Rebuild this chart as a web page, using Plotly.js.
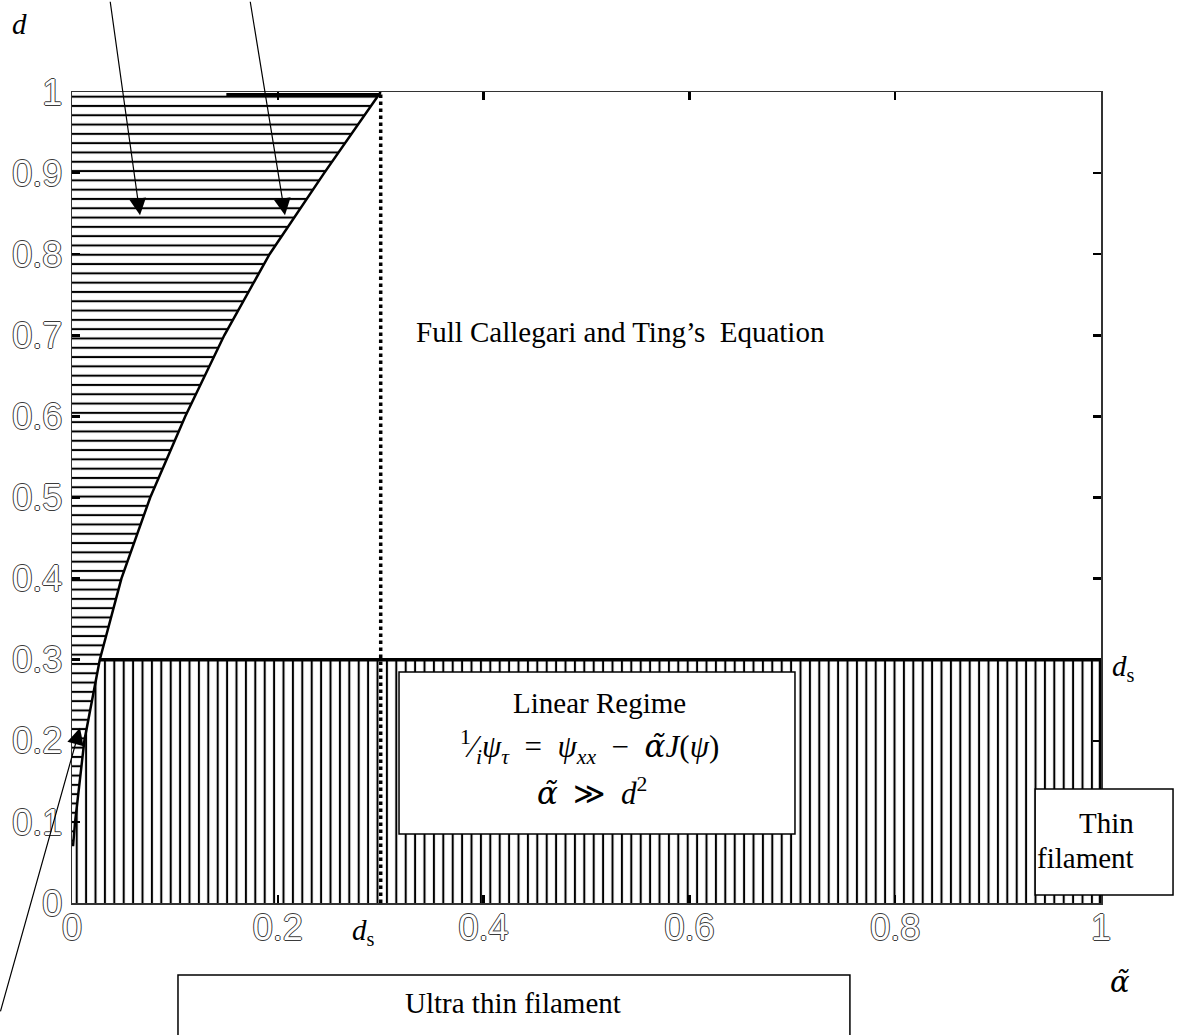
<!DOCTYPE html>
<html>
<head>
<meta charset="utf-8">
<script src="https://cdn.plot.ly/plotly-3.0.1.min.js"></script>
<style>html,body{margin:0;padding:0;background:#fff;}</style>
</head>
<body>
<div id="chart" style="width:1182px;height:1035px;"></div>
<script>
// Boundary curve between the two regimes
const curveAlpha = [0.001, 0.003, 0.012, 0.027, 0.048, 0.076, 0.110, 0.148, 0.192, 0.245, 0.300];
const curveD     = [0.07, 0.10, 0.20, 0.30, 0.40, 0.50, 0.60, 0.70, 0.80, 0.90, 1.00];
// Thin-filament limit d_s and regime limits
const dS = 0.3;
const alphaMax = 1.0;
const alphaDs = 0.3;
const topSegAlpha = [0.15, 0.30];
const topSegD = [0.997, 0.997];
const xTickVals = [0, 0.2, 0.4, 0.6, 0.8, 1];
const xTickText = ['0', '0.2', '0.4', '0.6', '0.8', '1'];
const yTickVals = [0, 0.1, 0.2, 0.3, 0.4, 0.5, 0.6, 0.7, 0.8, 0.9, 1];
const yTickText = ['0', '0.1', '0.2', '0.3', '0.4', '0.5', '0.6', '0.7', '0.8', '0.9', '1'];

// horizontal-hatch region: between d-axis and the curve
const hX = [0].concat(curveAlpha, [0]);
const hY = [curveD[0]].concat(curveD, [1]);
// vertical-hatch region: below d_s and right of the curve
const lowA = [], lowD = [];
for (let i = curveD.length - 1; i >= 0; i--) {
  if (curveD[i] <= dS + 1e-9) { lowA.push(curveAlpha[i]); lowD.push(curveD[i]); }
}
const vX = [0, alphaMax, alphaMax].concat(lowA, [0]);
const vY = [0, 0, dS].concat(lowD, [curveD[0]]);

const serif = 'Liberation Serif, Times New Roman, serif';
const outline = '1px 0 0 #3a3a3a, -1px 0 0 #3a3a3a, 0 1px 0 #3a3a3a, 0 -1px 0 #3a3a3a';
const alphaT = '<span style="font-family:DejaVu Serif;font-style:italic">\u03b1\u0303</span>';

const traces = [
  {x: hX, y: hY, type: 'scatter', mode: 'none', fill: 'toself', hoverinfo: 'skip',
   fillcolor: 'white',
   fillpattern: {shape: '-', size: 9.3, solidity: 0.22, fgcolor: '#000', bgcolor: 'white', fillmode: 'replace'}},
  {x: vX, y: vY, type: 'scatter', mode: 'none', fill: 'toself', hoverinfo: 'skip',
   fillcolor: 'white',
   fillpattern: {shape: '|', size: 9.4, solidity: 0.22, fgcolor: '#000', bgcolor: 'white', fillmode: 'replace'}},
  {x: curveAlpha, y: curveD, type: 'scatter', mode: 'lines', line: {color: '#000', width: 2.5}, cliponaxis: false},
  {x: [curveAlpha[3], alphaMax], y: [dS, dS], type: 'scatter', mode: 'lines', line: {color: '#000', width: 3.5}, cliponaxis: false},
  {x: [alphaMax, alphaMax], y: [0, dS], type: 'scatter', mode: 'lines', line: {color: '#000', width: 4.5}, cliponaxis: false},
  {x: [alphaDs, alphaDs], y: [0, 1.008], type: 'scatter', mode: 'lines', line: {color: '#000', width: 3.5, dash: 'dot'}, cliponaxis: false},
  {x: topSegAlpha, y: topSegD, type: 'scatter', mode: 'lines', line: {color: '#000', width: 3}, cliponaxis: false}
];

const box = (x0, x1, y0, y1) => ({type: 'rect', xref: 'paper', yref: 'paper', x0, x1, y0, y1,
  fillcolor: 'white', line: {color: '#000', width: 1.5}, layer: 'above'});

const txt = (text, x, y, size, extra) => Object.assign({text, x, y, xref: 'paper', yref: 'paper',
  xanchor: 'center', yanchor: 'middle',
  showarrow: false, font: {family: serif, size: size, color: '#000'}}, extra || {});

const arrow = (x, y, ax, ay) => ({text: '', x, y, xref: 'paper', yref: 'paper', ax, ay,
  showarrow: true, arrowhead: 2, arrowsize: 2.8, arrowwidth: 1.2, arrowcolor: '#000', standoff: 0});

const layout = {
  width: 1182, height: 1035,
  margin: {l: 72, r: 81, t: 92, b: 132, pad: 0},
  paper_bgcolor: 'white', plot_bgcolor: 'white',
  showlegend: false,
  xaxis: {range: [0, 1], tickvals: xTickVals, ticktext: xTickText, showgrid: false, zeroline: false,
    showline: true, mirror: 'ticks', linecolor: '#333', linewidth: 1.5, ticks: 'inside', ticklen: 8,
    tickwidth: 2.5, tickcolor: '#000', ticklabelstandoff: -8,
    tickfont: {family: 'Liberation Sans, Arial, sans-serif', size: 36, color: 'white', shadow: outline}},
  yaxis: {range: [0, 1], tickvals: yTickVals, ticktext: yTickText, showgrid: false, zeroline: false,
    showline: true, mirror: 'ticks', linecolor: '#333', linewidth: 1.5, ticks: 'inside', ticklen: 8,
    tickwidth: 2.5, tickcolor: '#000', ticklabelstandoff: 1,
    tickfont: {family: 'Liberation Sans, Arial, sans-serif', size: 36, color: 'white', shadow: outline}},
  shapes: [
    box(0.3178, 0.7026, 0.0851, 0.2848),
    box(0.936, 1.070, 0.0099, 0.1406),
    box(0.103, 0.756, -0.20, -0.0888)
  ],
  annotations: [
    txt('Full Callegari and Ting\u2019s \u00a0Equation', 0.5335, 0.704, 29),
    txt('Linear Regime', 0.513, 0.2466, 29),
    txt('<sup>1</sup>\u2044<sub><i>i</i></sub><i>\u03c8</i><sub><i>\u03c4</i></sub> \u00a0=\u00a0 <i>\u03c8</i><sub><i>xx</i></sub> \u00a0\u2212\u00a0 ' + alphaT + '<i>J</i>(<i>\u03c8</i>)', 0.503, 0.1924, 31),
    txt(alphaT + ' \u00a0\u226b\u00a0 <i>d</i><sup>2</sup>', 0.505, 0.137, 31),
    txt('Thin', 1.034, 0.0986, 29, {xanchor: 'right'}),
    txt('filament', 1.034, 0.0555, 29, {xanchor: 'right'}),
    txt('Ultra thin filament', 0.4286, -0.1233, 29),
    txt('<i>d</i><sub>s</sub>', 0.283, -0.0358, 29),
    txt('<i>d</i><sub>s</sub>', 1.0087, 0.2898, 29, {xanchor: 'left'}),
    txt('<i>d</i>', -0.0515, 1.0838, 29),
    txt(alphaT, 1.0185, -0.0974, 29),
    arrow(0.0661, 0.848, -30, -215),
    arrow(0.207, 0.848, -35, -215),
    arrow(0.0078, 0.216, -80, 285)
  ]
};

Plotly.newPlot('chart', traces, layout, {displayModeBar: false, staticPlot: true});
</script>
</body>
</html>
